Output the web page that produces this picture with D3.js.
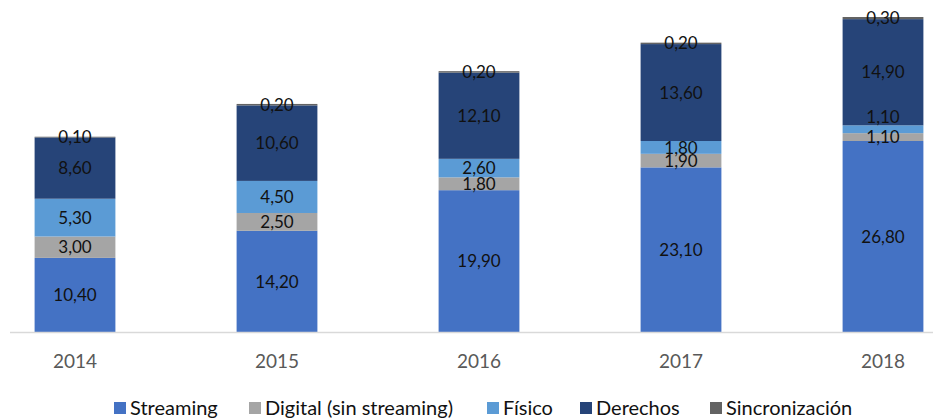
<!DOCTYPE html>
<html>
<head>
<meta charset="utf-8">
<script src="https://cdn.jsdelivr.net/npm/d3@7"></script>
<style>
  body { margin: 0; background: #fff; }
  svg { display: block; font-family: Lato, "Open Sans", sans-serif; }
</style>
</head>
<body>
<script>
var years = ["2014", "2015", "2016", "2017", "2018"];
var seriesNames = ["Streaming", "Digital (sin streaming)", "Físico", "Derechos", "Sincronización"];
var streaming = [10.4, 14.2, 19.9, 23.1, 26.8];
var digital = [3.0, 2.5, 1.8, 1.9, 1.1];
var fisico = [5.3, 4.5, 2.6, 1.8, 1.1];
var derechos = [8.6, 10.6, 12.1, 13.6, 14.9];
var sincronizacion = [0.1, 0.2, 0.2, 0.2, 0.3];
var colors = ["#4472c4", "#a5a5a5", "#5b9bd5", "#264478", "#636363"];

var width = 933, height = 419;
var plotTop = 17, plotBottom = 332;

var rows = years.map(function (y, i) {
    return {
        year: y,
        "Streaming": streaming[i],
        "Digital (sin streaming)": digital[i],
        "Físico": fisico[i],
        "Derechos": derechos[i],
        "Sincronización": sincronizacion[i]
    };
});

var stacked = d3.stack().keys(seriesNames)(rows);

var x = d3.scaleBand()
    .domain(years)
    .range([-26, 984])
    .paddingInner(0.6)
    .paddingOuter(0.3);

var y = d3.scaleLinear()
    .domain([0, d3.max(stacked[stacked.length - 1], function (d) { return d[1]; })])
    .range([plotBottom, plotTop]);

var color = d3.scaleOrdinal().domain(seriesNames).range(colors);

var fmt = function (v) { return d3.format(".2f")(v).replace(".", ","); };

var svg = d3.select("body").append("svg")
    .attr("width", width)
    .attr("height", height);

// bars
svg.append("g").selectAll("g")
    .data(stacked)
    .join("g")
    .attr("fill", function (s) { return color(s.key); })
    .selectAll("rect")
    .data(function (s) { return s; })
    .join("rect")
    .attr("x", function (d) { return x(d.data.year); })
    .attr("width", x.bandwidth())
    .attr("y", function (d) { return y(d[1]); })
    .attr("height", function (d) { return y(d[0]) - y(d[1]); });

// axis line
svg.append("line")
    .attr("x1", 10).attr("x2", width)
    .attr("y1", plotBottom + 0.5).attr("y2", plotBottom + 0.5)
    .attr("stroke", "#d9d9d9")
    .attr("stroke-width", 1.5);

var xAxis = d3.axisBottom(x).tickSize(0).tickPadding(23);
var gx = svg.append("g")
    .attr("transform", "translate(0," + plotBottom + ")")
    .call(xAxis);
gx.select(".domain").remove();
gx.selectAll("text")
    .attr("fill", "#595959")
    .style("font-size", "19px")
    .style("font-family", "Lato, 'Open Sans', sans-serif");

// data labels, nudged up when they would collide with the one below
var labels = [];
years.forEach(function (yr, i) {
    var prev = null;
    stacked.forEach(function (s) {
        var d = s[i];
        var cy = (y(d[0]) + y(d[1])) / 2;
        if (prev !== null && prev - cy < 10) cy = prev - 20;
        prev = cy;
        labels.push({ year: yr, cy: cy, value: d[1] - d[0] });
    });
});

svg.append("g").selectAll("text")
    .data(labels)
    .join("text")
    .attr("x", function (d) { return x(d.year) + x.bandwidth() / 2; })
    .attr("y", function (d) { return d.cy; })
    .attr("dy", "0.36em")
    .attr("text-anchor", "middle")
    .attr("fill", "#111")
    .style("font-size", "17px")
    .text(function (d) { return fmt(d.value); });

// legend
var legendX = [114, 249, 487, 580, 710];
var legend = svg.append("g").selectAll("g")
    .data(seriesNames)
    .join("g")
    .attr("transform", function (d, i) { return "translate(" + legendX[i] + ",408)"; });

legend.append("rect")
    .attr("x", 0).attr("y", -6)
    .attr("width", 12).attr("height", 12)
    .attr("fill", function (d) { return color(d); });

legend.append("text")
    .attr("x", 16)
    .attr("dy", "0.36em")
    .attr("fill", "#111")
    .style("font-size", "20px")
    .text(function (d) { return d; });
</script>
</body>
</html>
